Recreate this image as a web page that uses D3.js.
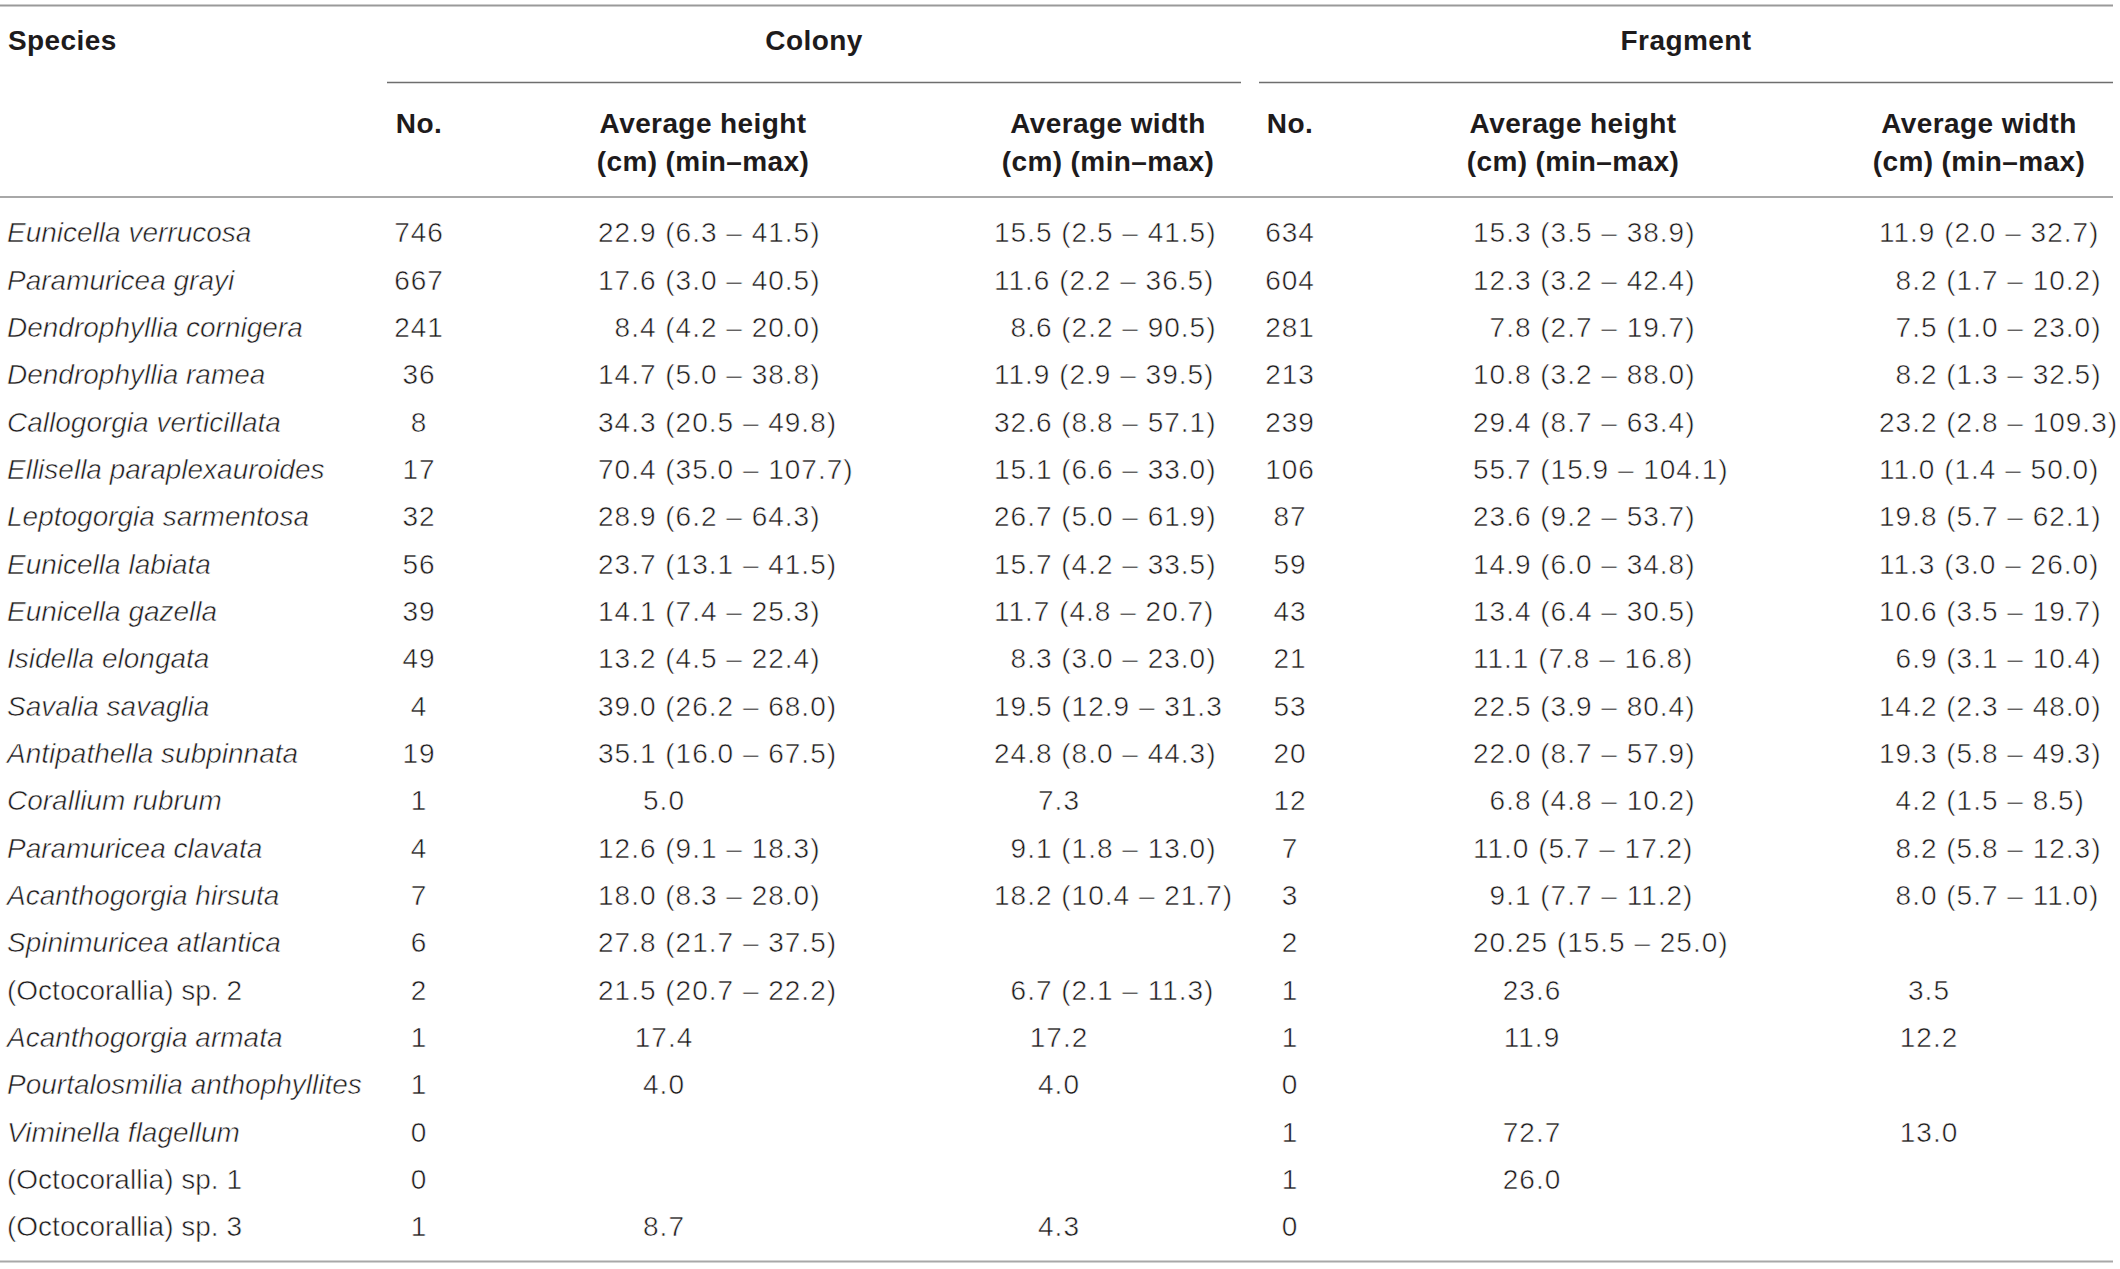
<!DOCTYPE html>
<html>
<head>
<meta charset="utf-8">
<script src="https://cdn.jsdelivr.net/npm/d3@7"></script>
<style>
  body { margin: 0; background: #fff; }
  text { font-family: "Liberation Sans", Arial, sans-serif; font-size: 28px; fill: #1e1b1c; }
  .light { stroke: #fff; stroke-width: 0.55px; paint-order: normal; }
  .num { letter-spacing: 1px; }
  .bold { font-weight: bold; letter-spacing: 0.4px; }
</style>
</head>
<body>
<div id="chart"></div>
<script>
const species = [
  "Eunicella verrucosa", "Paramuricea grayi", "Dendrophyllia cornigera", "Dendrophyllia ramea",
  "Callogorgia verticillata", "Ellisella paraplexauroides", "Leptogorgia sarmentosa", "Eunicella labiata",
  "Eunicella gazella", "Isidella elongata", "Savalia savaglia", "Antipathella subpinnata",
  "Corallium rubrum", "Paramuricea clavata", "Acanthogorgia hirsuta", "Spinimuricea atlantica",
  "(Octocorallia) sp. 2", "Acanthogorgia armata", "Pourtalosmilia anthophyllites", "Viminella flagellum",
  "(Octocorallia) sp. 1", "(Octocorallia) sp. 3"
];
const colonyNo = [746, 667, 241, 36, 8, 17, 32, 56, 39, 49, 4, 19, 1, 4, 7, 6, 2, 1, 1, 0, 0, 1];
const colonyHeight = [
  "22.9 (6.3 – 41.5)", "17.6 (3.0 – 40.5)", "8.4 (4.2 – 20.0)", "14.7 (5.0 – 38.8)",
  "34.3 (20.5 – 49.8)", "70.4 (35.0 – 107.7)", "28.9 (6.2 – 64.3)", "23.7 (13.1 – 41.5)",
  "14.1 (7.4 – 25.3)", "13.2 (4.5 – 22.4)", "39.0 (26.2 – 68.0)", "35.1 (16.0 – 67.5)",
  "5.0", "12.6 (9.1 – 18.3)", "18.0 (8.3 – 28.0)", "27.8 (21.7 – 37.5)",
  "21.5 (20.7 – 22.2)", "17.4", "4.0", "", "", "8.7"
];
const colonyWidth = [
  "15.5 (2.5 – 41.5)", "11.6 (2.2 – 36.5)", "8.6 (2.2 – 90.5)", "11.9 (2.9 – 39.5)",
  "32.6 (8.8 – 57.1)", "15.1 (6.6 – 33.0)", "26.7 (5.0 – 61.9)", "15.7 (4.2 – 33.5)",
  "11.7 (4.8 – 20.7)", "8.3 (3.0 – 23.0)", "19.5 (12.9 – 31.3", "24.8 (8.0 – 44.3)",
  "7.3", "9.1 (1.8 – 13.0)", "18.2 (10.4 – 21.7)", "",
  "6.7 (2.1 – 11.3)", "17.2", "4.0", "", "", "4.3"
];
const fragmentNo = [634, 604, 281, 213, 239, 106, 87, 59, 43, 21, 53, 20, 12, 7, 3, 2, 1, 1, 0, 1, 1, 0];
const fragmentHeight = [
  "15.3 (3.5 – 38.9)", "12.3 (3.2 – 42.4)", "7.8 (2.7 – 19.7)", "10.8 (3.2 – 88.0)",
  "29.4 (8.7 – 63.4)", "55.7 (15.9 – 104.1)", "23.6 (9.2 – 53.7)", "14.9 (6.0 – 34.8)",
  "13.4 (6.4 – 30.5)", "11.1 (7.8 – 16.8)", "22.5 (3.9 – 80.4)", "22.0 (8.7 – 57.9)",
  "6.8 (4.8 – 10.2)", "11.0 (5.7 – 17.2)", "9.1 (7.7 – 11.2)", "20.25 (15.5 – 25.0)",
  "23.6", "11.9", "", "72.7", "26.0", ""
];
const fragmentWidth = [
  "11.9 (2.0 – 32.7)", "8.2 (1.7 – 10.2)", "7.5 (1.0 – 23.0)", "8.2 (1.3 – 32.5)",
  "23.2 (2.8 – 109.3)", "11.0 (1.4 – 50.0)", "19.8 (5.7 – 62.1)", "11.3 (3.0 – 26.0)",
  "10.6 (3.5 – 19.7)", "6.9 (3.1 – 10.4)", "14.2 (2.3 – 48.0)", "19.3 (5.8 – 49.3)",
  "4.2 (1.5 – 8.5)", "8.2 (5.8 – 12.3)", "8.0 (5.7 – 11.0)", "",
  "3.5", "12.2", "", "13.0", "", ""
];
const groups = ["Colony", "Fragment"];
const measureHead = ["Average height", "Average width"];
const unitHead = "(cm) (min–max)";

let dim = { width: 2120, height: 1269 };

let svg = d3.select('#chart').append('svg')
    .attr('width', dim.width)
    .attr('height', dim.height);

// rows
let y = d3.scalePoint()
    .domain(species)
    .range([232.6, 1226.4]);

// columns: x = left edge for ranges, single = centre for lone values, head = header centre
const cols = [
  { vals: colonyHeight, x: 598, single: 664, head: 703 },
  { vals: colonyWidth, x: 994, single: 1059, head: 1108 },
  { vals: fragmentHeight, x: 1473, single: 1532, head: 1573 },
  { vals: fragmentWidth, x: 1879, single: 1929, head: 1979 }
];
const countCols = [
  { vals: colonyNo, x: 419 },
  { vals: fragmentNo, x: 1290 }
];

// digit width for padding single-digit means
let probe = svg.append('text').attr('class', 'num').text('0');
const digitW = probe.node().getComputedTextLength();
probe.remove();

// rules
const rule = (x1, x2, yy, color, w) => svg.append('line')
    .attr('x1', x1).attr('x2', x2).attr('y1', yy).attr('y2', yy)
    .attr('stroke', color).attr('stroke-width', w);

rule(0, 2113, 5.5, '#9a9a9a', 1.8);
rule(387, 1241, 82.5, '#6e6e6e', 1.6);
rule(1259, 2113, 82.5, '#6e6e6e', 1.6);
rule(0, 2113, 197, '#a8a8a8', 2.2);
rule(0, 2113, 1261.5, '#a8a8a8', 2.2);

// header
svg.append('text').attr('class', 'bold')
    .attr('x', 8).attr('y', 40.6).attr('dy', '0.35em')
    .text('Species');

svg.selectAll('text.group')
    .data(groups)
    .enter().append('text')
    .attr('class', 'group bold')
    .attr('x', (d, i) => i === 0 ? 814 : 1686)
    .attr('y', 40.6).attr('dy', '0.35em')
    .attr('text-anchor', 'middle')
    .text(d => d);

svg.selectAll('text.nohead')
    .data(countCols)
    .enter().append('text')
    .attr('class', 'nohead bold')
    .attr('x', d => d.x).attr('y', 123).attr('dy', '0.35em')
    .attr('text-anchor', 'middle')
    .text('No.');

cols.forEach((c, i) => {
  svg.append('text').attr('class', 'bold')
      .attr('x', c.head).attr('y', 123).attr('dy', '0.35em')
      .attr('text-anchor', 'middle')
      .text(measureHead[i % 2]);
  svg.append('text').attr('class', 'bold')
      .attr('x', c.head).attr('y', 161).attr('dy', '0.35em')
      .attr('text-anchor', 'middle')
      .text(unitHead);
});

// body
svg.selectAll('text.species')
    .data(species)
    .enter().append('text')
    .attr('class', 'species light')
    .attr('x', 7)
    .attr('y', d => y(d)).attr('dy', '0.35em')
    .style('font-style', d => d.startsWith('(') ? 'normal' : 'italic')
    .text(d => d);

countCols.forEach(c => {
  svg.append('g').selectAll('text')
      .data(c.vals)
      .enter().append('text')
      .attr('class', 'num light')
      .attr('x', c.x)
      .attr('y', (d, i) => y(species[i])).attr('dy', '0.35em')
      .attr('text-anchor', 'middle')
      .text(d => d);
});

cols.forEach(c => {
  svg.append('g').selectAll('text')
      .data(c.vals.map((v, i) => ({ v, s: species[i] })).filter(d => d.v !== ''))
      .enter().append('text')
      .attr('class', 'num light')
      .attr('x', d => {
        if (!d.v.includes('(')) return c.single;
        return d.v.split('.')[0].length === 1 ? c.x + digitW : c.x;
      })
      .attr('y', d => y(d.s)).attr('dy', '0.35em')
      .attr('text-anchor', d => d.v.includes('(') ? 'start' : 'middle')
      .text(d => d.v);
});
</script>
</body>
</html>
